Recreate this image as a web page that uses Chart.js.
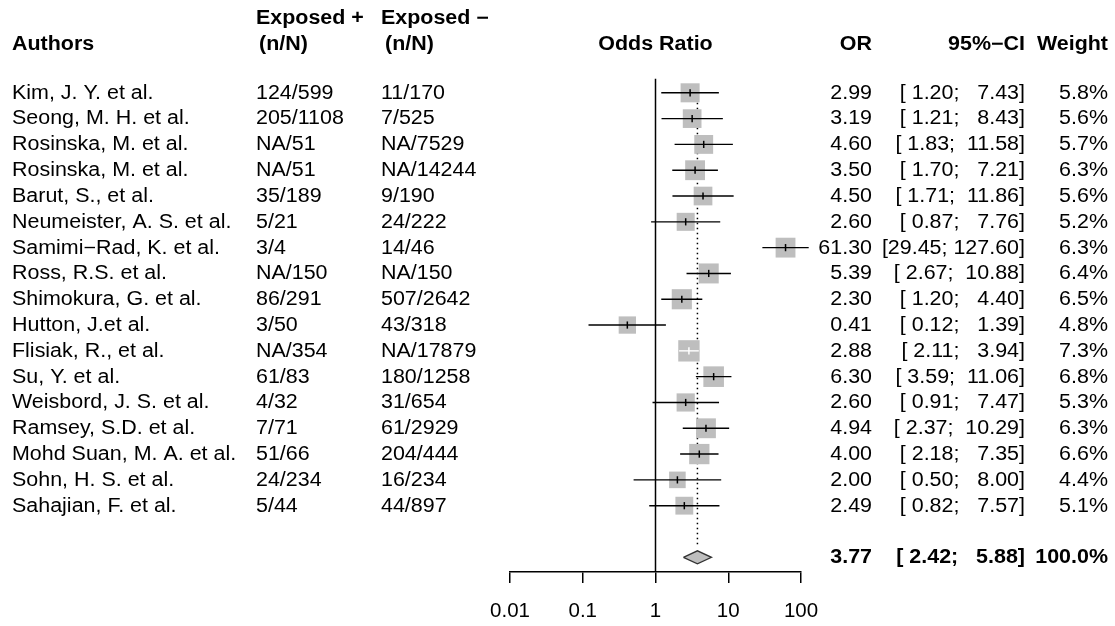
<!DOCTYPE html>
<html>
<head>
<meta charset="utf-8">
<script src="https://cdn.jsdelivr.net/npm/chart.js@4.4.0/dist/chart.umd.min.js"></script>
<style>body{margin:0;background:#fff}</style>
</head>
<body>
<canvas id="grafica" width="1115" height="626"></canvas>
<script>
// datos del forest plot
const authors = ['Kim, J. Y. et al.', 'Seong, M. H. et al.', 'Rosinska, M. et al.', 'Rosinska, M. et al.',
  'Barut, S., et al.', 'Neumeister, A. S. et al.', 'Samimi\u2212Rad, K. et al.', 'Ross, R.S. et al.',
  'Shimokura, G. et al.', 'Hutton, J.et al.', 'Flisiak, R., et al.', 'Su, Y. et al.',
  'Weisbord, J. S. et al.', 'Ramsey, S.D. et al.', 'Mohd Suan, M. A. et al.', 'Sohn, H. S. et al.',
  'Sahajian, F. et al.'];
const expPos = ['124/599', '205/1108', 'NA/51', 'NA/51', '35/189', '5/21', '3/4', 'NA/150',
  '86/291', '3/50', 'NA/354', '61/83', '4/32', '7/71', '51/66', '24/234', '5/44'];
const expNeg = ['11/170', '7/525', 'NA/7529', 'NA/14244', '9/190', '24/222', '14/46', 'NA/150',
  '507/2642', '43/318', 'NA/17879', '180/1258', '31/654', '61/2929', '204/444', '16/234', '44/897'];
const orVals = [2.99, 3.19, 4.60, 3.50, 4.50, 2.60, 61.30, 5.39, 2.30, 0.41, 2.88, 6.30, 2.60, 4.94, 4.00, 2.00, 2.49];
const ciLow  = [1.20, 1.21, 1.83, 1.70, 1.71, 0.87, 29.45, 2.67, 1.20, 0.12, 2.11, 3.59, 0.91, 2.37, 2.18, 0.50, 0.82];
const ciHigh = [7.43, 8.43, 11.58, 7.21, 11.86, 7.76, 127.60, 10.88, 4.40, 1.39, 3.94, 11.06, 7.47, 10.29, 7.35, 8.00, 7.57];
const weights = [5.8, 5.6, 5.7, 6.3, 5.6, 5.2, 6.3, 6.4, 6.5, 4.8, 7.3, 6.8, 5.3, 6.3, 6.6, 4.4, 5.1];
const pooledOr = 3.77;
const pooledLow = 2.42;
const pooledHigh = 5.88;
const pooledWeight = 100.0;
const tickVals = [0.01, 0.1, 1, 10, 100];
const tickLabels = ['0.01', '0.1', '1', '10', '100'];

const FONT = '"Liberation Sans", Arial, sans-serif';
const summaryRow = authors.length + 2;
const boxSide = w => 7.9 * Math.sqrt(w);

function fmtCI(lo, hi) {
  return '[' + lo.toFixed(2).padStart(5, ' ') + '; ' + hi.toFixed(2).padStart(6, ' ') + ']';
}

// si el IC cabe dentro del cuadro la linea va en blanco
function ciColor(ctx, i) {
  const sx = ctx.chart.scales.x;
  const w = sx.getPixelForValue(ciHigh[i]) - sx.getPixelForValue(ciLow[i]);
  return w < boxSide(weights[i]) ? '#ffffff' : '#000000';
}

const datasets = [];

// lineas de IC
authors.forEach(function (a, i) {
  datasets.push({
    data: [{x: ciLow[i], y: i + 1}, {x: ciHigh[i], y: i + 1}],
    showLine: true,
    pointRadius: 0,
    borderWidth: 1.4,
    borderColor: ctx => ciColor(ctx, i),
    order: 1
  });
});

// marca central
datasets.push({
  data: orVals.map((v, i) => ({x: v, y: i + 1})),
  pointStyle: 'line',
  rotation: 90,
  pointRadius: 3.6,
  pointBorderWidth: 1.5,
  pointBorderColor: ctx => ciColor(ctx, ctx.dataIndex),
  order: 0
});

// cuadros
datasets.push({
  data: orVals.map((v, i) => ({x: v, y: i + 1})),
  pointStyle: 'rect',
  pointRadius: weights.map(w => boxSide(w) / Math.SQRT2),
  pointBackgroundColor: '#bebebe',
  pointBorderColor: '#bebebe',
  pointBorderWidth: 0,
  order: 2
});

// diamante resumen
datasets.push({
  data: [{x: pooledLow, y: summaryRow}, {x: pooledOr, y: summaryRow - 0.25}, {x: pooledHigh, y: summaryRow},
         {x: pooledOr, y: summaryRow + 0.25}, {x: pooledLow, y: summaryRow}],
  showLine: true,
  pointRadius: 0,
  borderColor: '#333333',
  borderWidth: 1.3,
  backgroundColor: '#bebebe',
  fill: 'shape',
  order: 1
});

// linea de no efecto
datasets.push({
  data: [{x: 1, y: 0.46}, {x: 1, y: 19.57}],
  showLine: true, pointRadius: 0, borderColor: '#000', borderWidth: 1.5, order: 3
});

// linea punteada del efecto combinado
datasets.push({
  data: [{x: pooledOr, y: 1}, {x: pooledOr, y: summaryRow - 0.42}],
  showLine: true, pointRadius: 0, borderColor: '#000', borderWidth: 1.5, borderDash: [1.5, 3.5], order: 4
});

datasets.forEach(d => { d.clip = false; });

function txt(ctx, s, x, y, align, bold) {
  ctx.save();
  ctx.font = (bold ? 'bold ' : '') + '19.5px ' + FONT;
  ctx.textAlign = align;
  ctx.textBaseline = 'middle';
  ctx.fillStyle = '#000';
  ctx.translate(x, y);
  ctx.scale(1.1, 1);
  ctx.fillText(s, 0, 0);
  ctx.restore();
}

const textos = {
  id: 'textos',
  afterDraw(chart) {
    const ctx = chart.ctx;
    const sy = chart.scales.y;
    const sx = chart.scales.x;
    // encabezados
    txt(ctx, 'Exposed +', 256, 19, 'left', true);
    txt(ctx, 'Exposed \u2212', 381, 19, 'left', true);
    txt(ctx, 'Authors', 12, 45, 'left', true);
    txt(ctx, '(n/N)', 259, 45, 'left', true);
    txt(ctx, '(n/N)', 385, 45, 'left', true);
    txt(ctx, 'Odds Ratio', sx.getPixelForValue(1), 45, 'center', true);
    txt(ctx, 'OR', 872, 45, 'right', true);
    txt(ctx, '95%\u2212CI', 1025, 45, 'right', true);
    txt(ctx, 'Weight', 1108, 45, 'right', true);
    authors.forEach(function (a, i) {
      const y = sy.getPixelForValue(i + 1) + 0.5;
      txt(ctx, a, 12, y, 'left', false);
      txt(ctx, expPos[i], 256, y, 'left', false);
      txt(ctx, expNeg[i], 381, y, 'left', false);
      txt(ctx, orVals[i].toFixed(2), 872, y, 'right', false);
      txt(ctx, fmtCI(ciLow[i], ciHigh[i]), 1025, y, 'right', false);
      txt(ctx, weights[i].toFixed(1) + '%', 1108, y, 'right', false);
    });
    const ys = sy.getPixelForValue(summaryRow) + 0.5;
    txt(ctx, pooledOr.toFixed(2), 872, ys, 'right', true);
    txt(ctx, fmtCI(pooledLow, pooledHigh), 1025, ys, 'right', true);
    txt(ctx, pooledWeight.toFixed(1) + '%', 1108, ys, 'right', true);
  }
};

const graph = document.getElementById('grafica');
const grafico = new Chart(graph, {
  type: 'scatter',
  data: {datasets: datasets},
  options: {
    responsive: false,
    animation: false,
    devicePixelRatio: 1,
    layout: {padding: {left: 510, right: 314, top: 67, bottom: 0}},
    plugins: {legend: {display: false}, tooltip: {enabled: false}},
    scales: {
      x: {
        type: 'logarithmic',
        min: 0.01,
        max: 100,
        afterBuildTicks: s => { s.ticks = tickVals.map(v => ({value: v})); },
        afterFit: s => { s.height = 54; },
        ticks: {
          callback: (v, i) => tickLabels[i],
          color: '#000',
          font: {family: FONT, size: 20.5},
          padding: 16,
          maxRotation: 0,
          autoSkip: false
        },
        grid: {drawOnChartArea: false, drawTicks: true, tickLength: 11, color: '#000', lineWidth: 1.5},
        border: {display: true, color: '#000', width: 1.5}
      },
      y: {
        type: 'linear',
        display: false,
        reverse: true,
        min: 0,
        max: 19.57
      }
    }
  },
  plugins: [textos]
});
</script>
</body>
</html>
